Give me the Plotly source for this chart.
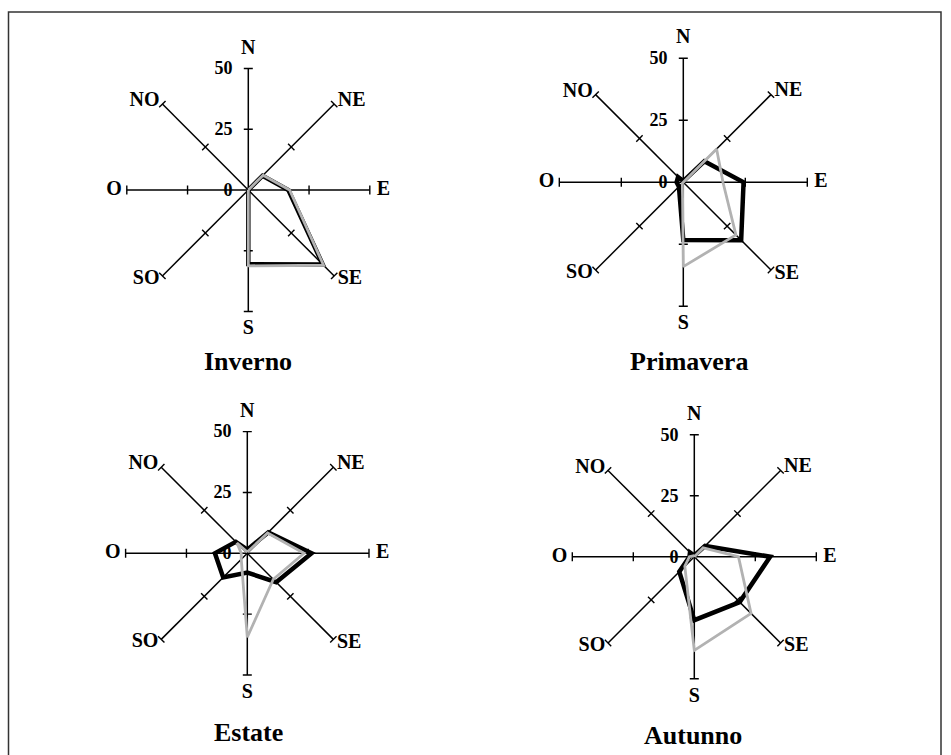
import math
import plotly.graph_objects as go

# Wind directions, clockwise from north
directions = ["N", "NE", "E", "SE", "S", "SO", "O", "NO"]
seasons = ["Inverno", "Primavera", "Estate", "Autunno"]

# Frequency (%) per direction, two series per season
black_inverno = [0.0, 8.3, 16.5, 43.3, 30.5, 0.0, 0.0, 0.0]
gray_inverno = [0.0, 8.6, 17.0, 43.8, 31.2, 0.0, 0.0, 0.0]

black_primavera = [0.5, 12.0, 24.3, 33.0, 23.3, 2.5, 2.7, 3.0]
gray_primavera = [0.0, 19.0, 16.0, 30.0, 34.0, 0.5, 0.0, 0.0]

black_estate = [1.5, 12.2, 26.4, 16.8, 7.9, 14.0, 13.3, 6.7]
gray_estate = [0.5, 11.8, 23.3, 15.1, 34.5, 3.5, 2.5, 6.0]

black_autunno = [0.5, 6.2, 31.1, 26.3, 26.0, 8.7, 2.0, 2.5]
gray_autunno = [0.0, 5.1, 18.1, 32.9, 38.4, 5.5, 2.0, 0.5]

black_series = [black_inverno, black_primavera, black_estate, black_autunno]
gray_series = [gray_inverno, gray_primavera, gray_estate, gray_autunno]

radial_ticks = [0, 25, 50]
r_max = 50      # length of each spoke
r_outer = 60    # radial range, leaves room for the direction labels

W, H = 951, 755
FONT = "Liberation Serif"
CLEAR = "rgba(0,0,0,0)"

# pixel centre and spoke length of each rose
panels = [
    (248.3, 190.0, 121.5),
    (683.3, 182.3, 124.0),
    (247.3, 553.3, 121.7),
    (694.3, 556.7, 122.0),
]
title_pos = [(248, 361), (689, 361), (249, 732), (693, 735)]

# direction labels sit beside the end of each spoke
label_side = ["top center", "middle right", "middle right", "middle right",
              "bottom center", "middle left", "middle left", "middle left"]
label_pad_px = [10, 5, 7, 5, 8, 4, 5, 4]

angles = [i * 360 / len(directions) for i in range(len(directions))]

fig = go.Figure()


def closed(values):
    return list(values) + [values[0]]


def spokes():
    r_pts, t_pts = [], []
    for a in angles:
        r_pts += [0, r_max, None]
        t_pts += [a, a, None]
    return r_pts, t_pts


def cross_ticks(half_len):
    r_pts, t_pts = [], []
    for a in angles:
        for r0 in radial_ticks[1:]:
            rr = math.hypot(r0, half_len)
            da = math.degrees(math.atan2(half_len, r0))
            r_pts += [rr, rr, None]
            t_pts += [a - da, a + da, None]
    return r_pts, t_pts


for k, season in enumerate(seasons):
    pid = "polar" if k == 0 else f"polar{k + 1}"
    cx, cy, R = panels[k]
    px_per_unit = R / r_max

    sr, st = spokes()
    fig.add_trace(go.Scatterpolar(
        r=sr, theta=st, mode="lines", subplot=pid,
        line=dict(color="black", width=1.5), hoverinfo="skip", showlegend=False,
    ))
    tr, tt = cross_ticks(4.5 / px_per_unit)
    fig.add_trace(go.Scatterpolar(
        r=tr, theta=tt, mode="lines", subplot=pid,
        line=dict(color="black", width=1.4), hoverinfo="skip", showlegend=False,
    ))
    fig.add_trace(go.Scatterpolar(
        r=closed(black_series[k]), theta=closed(angles), mode="lines",
        subplot=pid, line=dict(color="black", width=4.5),
        name="serie 1", showlegend=False,
    ))
    fig.add_trace(go.Scatterpolar(
        r=closed(gray_series[k]), theta=closed(angles), mode="lines",
        subplot=pid, line=dict(color="#b2b2b2", width=2.8),
        name="serie 2", showlegend=False,
    ))
    fig.add_trace(go.Scatterpolar(
        r=[r_max + p / px_per_unit for p in label_pad_px], theta=angles,
        text=directions, mode="text", textposition=label_side,
        subplot=pid, cliponaxis=False, hoverinfo="skip", showlegend=False,
        textfont=dict(family=FONT, size=20, color="black", weight="bold"),
    ))

    Rd = r_outer * px_per_unit
    dom_x = [(cx - Rd) / W, (cx + Rd) / W]
    dom_y = [1 - (cy + Rd) / H, 1 - (cy - Rd) / H]
    fig.layout[pid] = dict(
        domain=dict(x=dom_x, y=dom_y),
        bgcolor=CLEAR,
        angularaxis=dict(
            rotation=90, direction="clockwise",
            tickmode="array", tickvals=angles, showticklabels=False,
            showline=False, ticks="", showgrid=False,
        ),
        radialaxis=dict(
            range=[0, r_outer], angle=90, side="counterclockwise",
            tickmode="array", tickvals=radial_ticks, tickangle=90,
            showgrid=False, showline=False,
            ticks="outside", ticklen=9, tickcolor=CLEAR,
            tickfont=dict(family=FONT, size=18, color="black", weight="bold"),
        ),
    )

    tx, ty = title_pos[k]
    fig.add_annotation(
        x=tx / W, y=1 - ty / H, xref="paper", yref="paper",
        text=season, showarrow=False, xanchor="center", yanchor="middle",
        font=dict(family=FONT, size=26, color="black", weight="bold"),
    )

# frame around the whole figure
fig.add_shape(
    type="rect", xref="paper", yref="paper",
    x0=8.5 / W, x1=941 / W, y0=-0.02, y1=1 - 12 / H,
    line=dict(color="#333333", width=1.5),
)

fig.update_layout(
    width=W, height=H,
    margin=dict(l=0, r=0, t=0, b=0),
    paper_bgcolor="white", plot_bgcolor="white",
    showlegend=False,
)

fig.write_html("out.html")
